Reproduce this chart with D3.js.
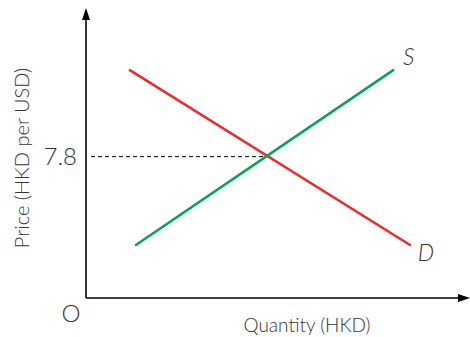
<!DOCTYPE html>
<html><head><meta charset="utf-8">
<script src="https://cdn.jsdelivr.net/npm/d3@7"></script>
<style>body{margin:0;background:#fff}text{font-family:Lato,"Open Sans",sans-serif;font-weight:300;fill:#333}</style>
</head><body><svg id="c" width="470" height="337"></svg>
<script>
const supply = [{q:12.8,p:2.9},{q:80.2,p:12.6}];
const demand = [{q:11.2,p:12.6},{q:84.6,p:2.9}];
const eqPrice = 7.8, eqQty = 47.1;
const priceTicks = [7.8];
const labels = {x:"Quantity (HKD)", y:"Price (HKD per USD)", s:"S", d:"D", origin:"O"};

const svg = d3.select("#c");
const x = d3.scaleLinear().domain([0,100]).range([86,470]);
const y = d3.scaleLinear().domain([0,16]).range([298,8]);

// axes
svg.append("line").attr("x1",x(0)).attr("x2",x(0)).attr("y1",y(0)).attr("y2",y(16)+10).attr("stroke","#000").attr("stroke-width",1.6);
svg.append("line").attr("x1",x(0)).attr("x2",x(100)-10).attr("y1",y(0)).attr("y2",y(0)).attr("stroke","#000").attr("stroke-width",1.6);
svg.append("path").attr("d",`M${x(0)},${y(16)} L${x(0)-4},${y(16)+12} L${x(0)+4},${y(16)+12}Z`).attr("fill","#000");
svg.append("path").attr("d",`M${x(100)},${y(0)} L${x(100)-12},${y(0)-4} L${x(100)-12},${y(0)+4}Z`).attr("fill","#000");

// dashed
svg.append("line").attr("x1",x(0)+5).attr("x2",x(eqQty)).attr("y1",y(eqPrice)).attr("y2",y(eqPrice))
  .attr("stroke","#000").attr("stroke-width",1).attr("stroke-dasharray","4,3");

const line = d3.line().x(d=>x(d.q)).y(d=>y(d.p));
svg.append("path").datum(demand).attr("d",line).attr("stroke","#ee2a2f").attr("stroke-width",2.5).attr("fill","none");
svg.append("path").datum(supply).attr("d",line).attr("stroke","#00a651").attr("stroke-width",2.5).attr("fill","none");

// tick label
svg.selectAll(".tk").data(priceTicks).enter().append("text").attr("x",x(0)-9).attr("y",d=>y(d)+8)
  .attr("text-anchor","end").attr("font-size",24).text(d=>d);

svg.append("text").attr("x",x(supply[1].q)+9).attr("y",y(supply[1].p)-5).attr("font-size",23).attr("font-style","italic").text(labels.s);
svg.append("text").attr("x",x(demand[1].q)+7).attr("y",y(demand[1].p)+16).attr("font-size",23).attr("font-style","italic").text(labels.d);
svg.append("text").attr("x",71).attr("y",322).attr("text-anchor","middle").attr("font-size",24).text(labels.origin);
svg.append("text").attr("x",307).attr("y",332).attr("text-anchor","middle").attr("font-size",19).text(labels.x);
svg.append("text").attr("transform","translate(29,158) rotate(-90)").attr("text-anchor","middle").attr("font-size",20).text(labels.y);
</script></body></html>
